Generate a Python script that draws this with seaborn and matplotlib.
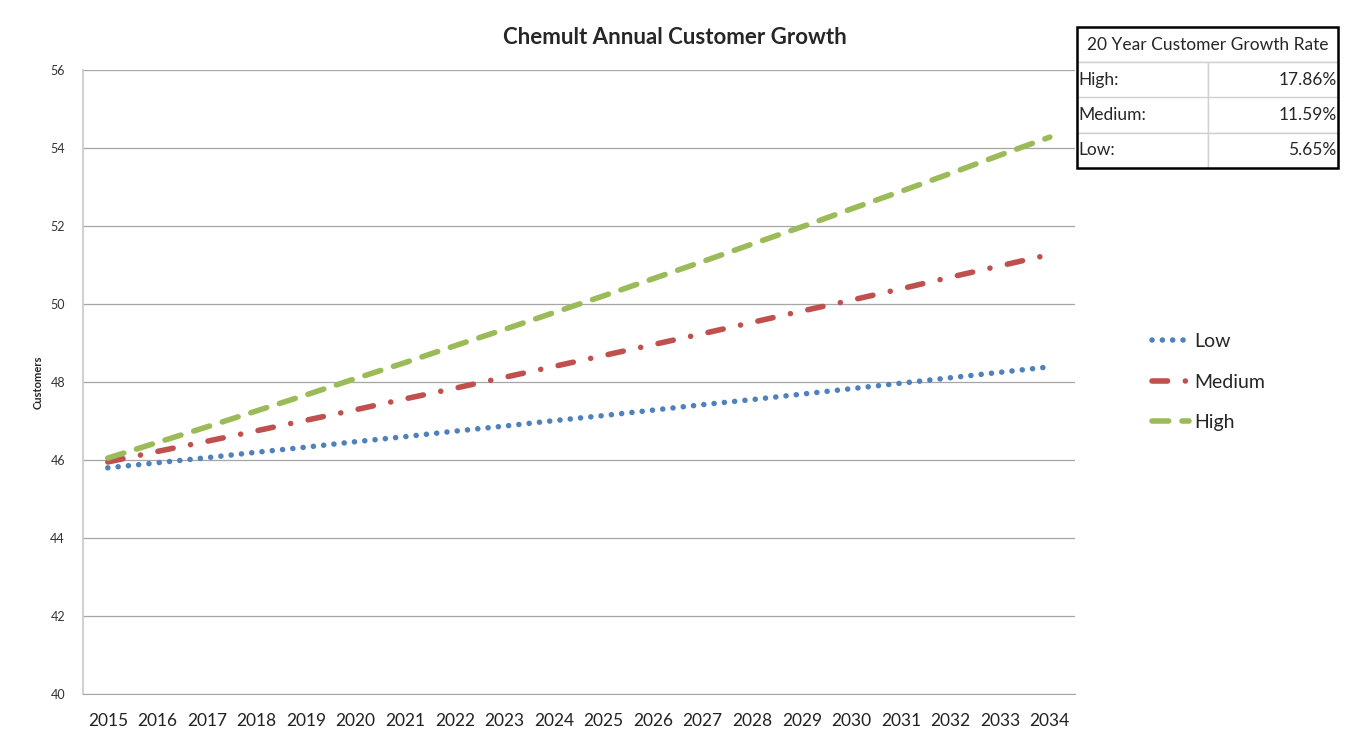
import numpy as np
import pandas as pd
import matplotlib
matplotlib.use('Agg')
import matplotlib.pyplot as plt
import seaborn as sns

# Data
years = list(range(2015, 2035))
low = [45.80, 45.93, 46.06, 46.20, 46.33, 46.47, 46.60, 46.74, 46.87, 47.01,
       47.14, 47.28, 47.42, 47.55, 47.69, 47.83, 47.97, 48.11, 48.25, 48.39]
medium = [45.95, 46.22, 46.48, 46.75, 47.02, 47.29, 47.57, 47.84, 48.12, 48.40,
          48.68, 48.96, 49.24, 49.53, 49.82, 50.10, 50.39, 50.69, 50.98, 51.27]
high = [46.05, 46.45, 46.85, 47.26, 47.67, 48.09, 48.50, 48.93, 49.35, 49.78,
        50.21, 50.65, 51.09, 51.54, 51.98, 52.44, 52.89, 53.35, 53.82, 54.28]

table_title = '20 Year Customer Growth Rate'
table_rows = ['High:', 'Medium:', 'Low:']
table_vals = ['17.86%', '11.59%', '5.65%']

sns.set_style('white')
plt.rcParams['font.family'] = ['Lato', 'DejaVu Sans']

fig = plt.figure(figsize=(13.5, 7.41), dpi=100)
ax = fig.add_axes([0.0615, 0.0634, 0.7345, 0.8421])

lw = 4
sns.lineplot(x=years, y=low, ax=ax, color='#4F81BD', linewidth=lw,
             linestyle=(0, (0.01, 1.85)), dash_capstyle='round', label='Low')
sns.lineplot(x=years, y=medium, ax=ax, color='#C0504D', linewidth=lw,
             linestyle=(0, (2.8, 3.2, 0.01, 3.2)), dash_capstyle='round', label='Medium')
sns.lineplot(x=years, y=high, ax=ax, color='#9BBB59', linewidth=lw,
             linestyle=(0, (3.0, 2.4)), dash_capstyle='round', label='High')

ax.set_xlim(2014.5, 2034.5)
ax.set_ylim(40, 56)
ax.set_yticks(range(40, 57, 2))
ax.set_xticks(years)
ax.set_xticklabels([str(y) for y in years], fontsize=12.5, color='#222222')
ax.tick_params(axis='y', labelsize=9, colors='#333333', length=0, pad=13)
ax.tick_params(axis='x', length=0, pad=14)
ax.grid(axis='y', color='#A6A6A6', linewidth=0.9)
ax.grid(axis='x', visible=False)
for s in ['top', 'right']:
    ax.spines[s].set_visible(False)
ax.spines['left'].set_color('#C8C8C8')
ax.spines['left'].set_linewidth(1.2)
ax.spines['bottom'].set_color('#A6A6A6')
ax.set_xlabel('')
ax.set_ylabel('Customers', fontsize=8, fontweight='bold', labelpad=5)

fig.text(0.5, 0.95, 'Chemult Annual Customer Growth', ha='center', va='center',
         fontsize=16, fontweight='bold')

leg = ax.legend(loc='center left', bbox_to_anchor=(1.06, 0.5), frameon=False,
                fontsize=14, handlelength=1.9, handletextpad=0.3,
                labelspacing=1.2)

# growth rate table (top right)
tax = fig.add_axes([1077 / 1350, 1 - 168 / 741, (1338 - 1077) / 1350, (168 - 27) / 741])
tax.axis('off')
cell_text = [['', '']] + [[r, v] for r, v in zip(table_rows, table_vals)]
tbl = tax.table(cellText=cell_text, bbox=[0, 0, 1, 1], cellLoc='left')
tbl.auto_set_font_size(False)
for (r, c), cell in tbl.get_celld().items():
    cell.set_edgecolor('#D0D0D0')
    cell.set_linewidth(1)
    cell.get_text().set_fontsize(12.5)
    cell.PAD = 0.01
    if r == 0:
        cell.visible_edges = 'B'
    if c == 1:
        cell.get_text().set_ha('right')
        cell._loc = 'right'
tax.text(0.5, 1 - 0.125, table_title, ha='center', va='center', fontsize=12.5,
         transform=tax.transAxes)
tax.add_patch(plt.Rectangle((0, 0), 1, 1, transform=tax.transAxes, fill=False,
                            edgecolor='black', linewidth=1.8, clip_on=False))

fig.savefig('out.png', dpi=100)
